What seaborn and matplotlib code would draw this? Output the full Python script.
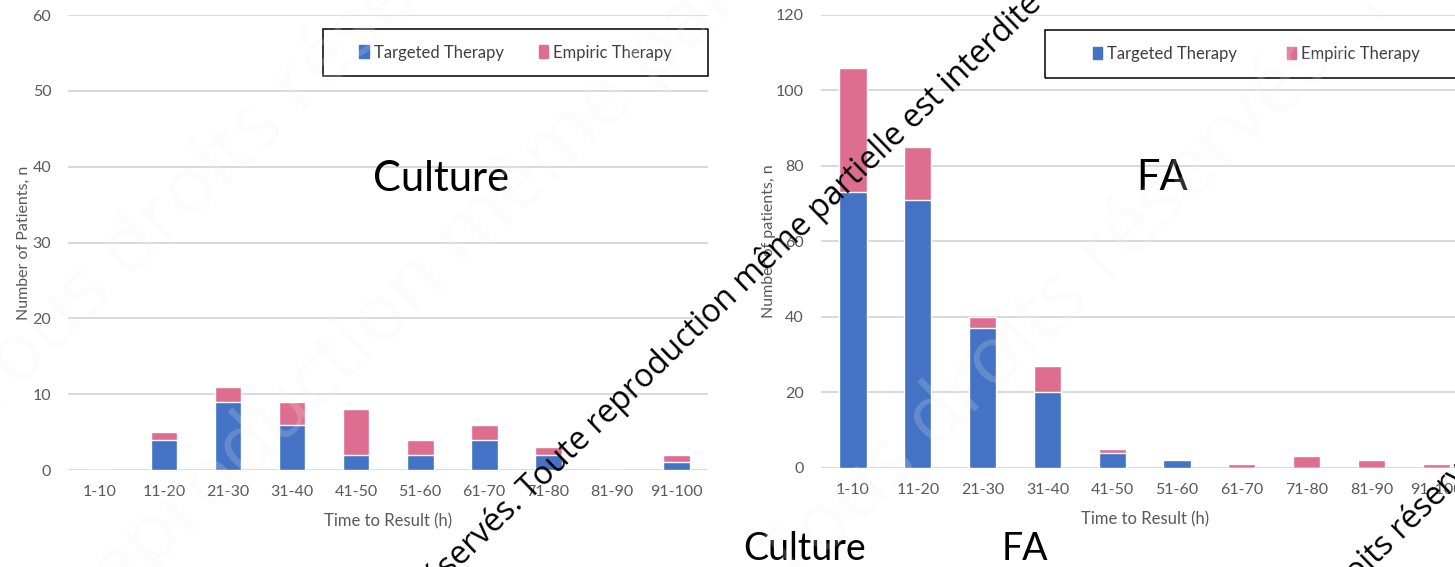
import matplotlib.pyplot as plt
import numpy as np
import pandas as pd
import seaborn as sns
from matplotlib.patches import Patch, Rectangle

# ---- data ----
bins = ["1-10", "11-20", "21-30", "31-40", "41-50",
        "51-60", "61-70", "71-80", "81-90", "91-100"]

culture_targeted = [0, 4, 9, 6, 2, 2, 4, 2, 0, 1]
culture_empiric = [0, 1, 2, 3, 6, 2, 2, 1, 0, 1]

fa_targeted = [73, 71, 37, 20, 4, 2, 0, 0, 0, 0]
fa_empiric = [33, 14, 3, 7, 1, 0, 1, 3, 2, 1]

blue = "#4472C4"
pink = "#DE6E90"
grey_txt = "#595959"

sns.set_theme(style="white")
plt.rcParams["font.family"] = ["Lato", "DejaVu Sans"]

W, H = 1455, 567
fig = plt.figure(figsize=(W / 100, H / 100), dpi=100)
ax1 = fig.add_axes([0.0467, 0.171, 0.4400, 0.8025])
ax2 = fig.add_axes([0.5640, 0.175, 0.4454, 0.7990])


def stacked(ax, targeted, empiric, ymax, ylabel, ypad, title, tx, leg_box,
            colsp):
    df = pd.DataFrame({"bin": bins, "targeted": targeted,
                       "total": np.array(targeted) + np.array(empiric)})
    sns.barplot(data=df, x="bin", y="total", color=pink, width=0.42,
                saturation=1, ax=ax, zorder=3)
    sns.barplot(data=df, x="bin", y="targeted", color=blue, width=0.42,
                saturation=1, ax=ax, zorder=3)
    ax.set_ylim(0, ymax)
    ax.set_xlim(-0.5, len(bins) - 0.5)
    ax.set_yticks(np.arange(0, ymax + 1, ymax // 6))
    ax.yaxis.grid(True, color="#D9D9D9", linewidth=1.4, zorder=0)
    ax.set_axisbelow(True)
    for s in ax.spines.values():
        s.set_visible(False)
    ax.tick_params(axis="both", length=0, labelsize=11.5, colors=grey_txt)
    ax.tick_params(axis="x", pad=11)
    ax.tick_params(axis="y", pad=12)
    ax.set_xlabel("Time to Result (h)", fontsize=12, color=grey_txt,
                  labelpad=10)
    ax.set_ylabel(ylabel, fontsize=11.5, color=grey_txt, labelpad=ypad)
    ax.text(tx, 0.64, title, transform=ax.transAxes, ha="center",
            va="center", fontsize=30, color="black")

    # legend with a black box frame
    x0, y0, w, h = leg_box
    ax.add_patch(Rectangle((x0, y0), w, h, transform=ax.transAxes,
                           fill=False, edgecolor="black", linewidth=1.1,
                           clip_on=False, zorder=5))
    handles = [Patch(color=blue, label="Targeted Therapy"),
               Patch(color=pink, label="Empiric Therapy")]
    ax.legend(handles=handles, loc="center", ncol=2, frameon=False,
              bbox_to_anchor=(x0 + w / 2, y0 + h / 2),
              fontsize=12, handlelength=0.55, handleheight=0.8,
              handletextpad=0.3, columnspacing=colsp, labelcolor="#404040")


stacked(ax1, culture_targeted, culture_empiric, 60,
        "Number of Patients, n", 1, "Culture", 0.583,
        (0.398, 0.866, 0.602, 0.103), 2.1)
stacked(ax2, fa_targeted, fa_empiric, 120,
        "Number of patients, n", 0, "FA", 0.527,
        (0.346, 0.861, 0.654, 0.106), 3.0)

# labels below the panels
fig.text(805 / W, 1 - 549 / H, "Culture", ha="center", va="center",
         fontsize=27, color="black")
fig.text(1025 / W, 1 - 549 / H, "FA", ha="center", va="center",
         fontsize=27, color="black")

# faint background watermark
wm_font = ["Open Sans", "DejaVu Sans"]
ang = 44
for (px, py, s) in [
    (-15, 420, "Tous droits réservés. Toute reproduction même partielle"),
    (95, 625, "reproduction même partielle est interdite"),
    (790, 590, "Tous droits réservés. Toute reproduction même partielle"),
]:
    fig.text(px / W, 1 - py / H, s, ha="left", va="baseline", rotation=ang,
             rotation_mode="anchor", fontsize=58, family=wm_font,
             color="#f0f0f0", alpha=0.2, zorder=10)

# black watermark lines
fig.text(530 / W, 1 - 500 / H, "Tous droits réservés. ", ha="right",
         va="baseline", rotation=ang, rotation_mode="anchor", fontsize=23,
         family=wm_font, color="black")
fig.text(530 / W, 1 - 500 / H,
         "Toute reproduction même partielle est interdite", ha="left",
         va="baseline", rotation=ang, rotation_mode="anchor", fontsize=23,
         family=wm_font, color="black")
fig.text(1276 / W, 1 - 662 / H, "Tous droits réservés.", ha="left",
         va="baseline", rotation=ang, rotation_mode="anchor", fontsize=23,
         family=wm_font, color="black")

fig.savefig("out.png", dpi=100)
